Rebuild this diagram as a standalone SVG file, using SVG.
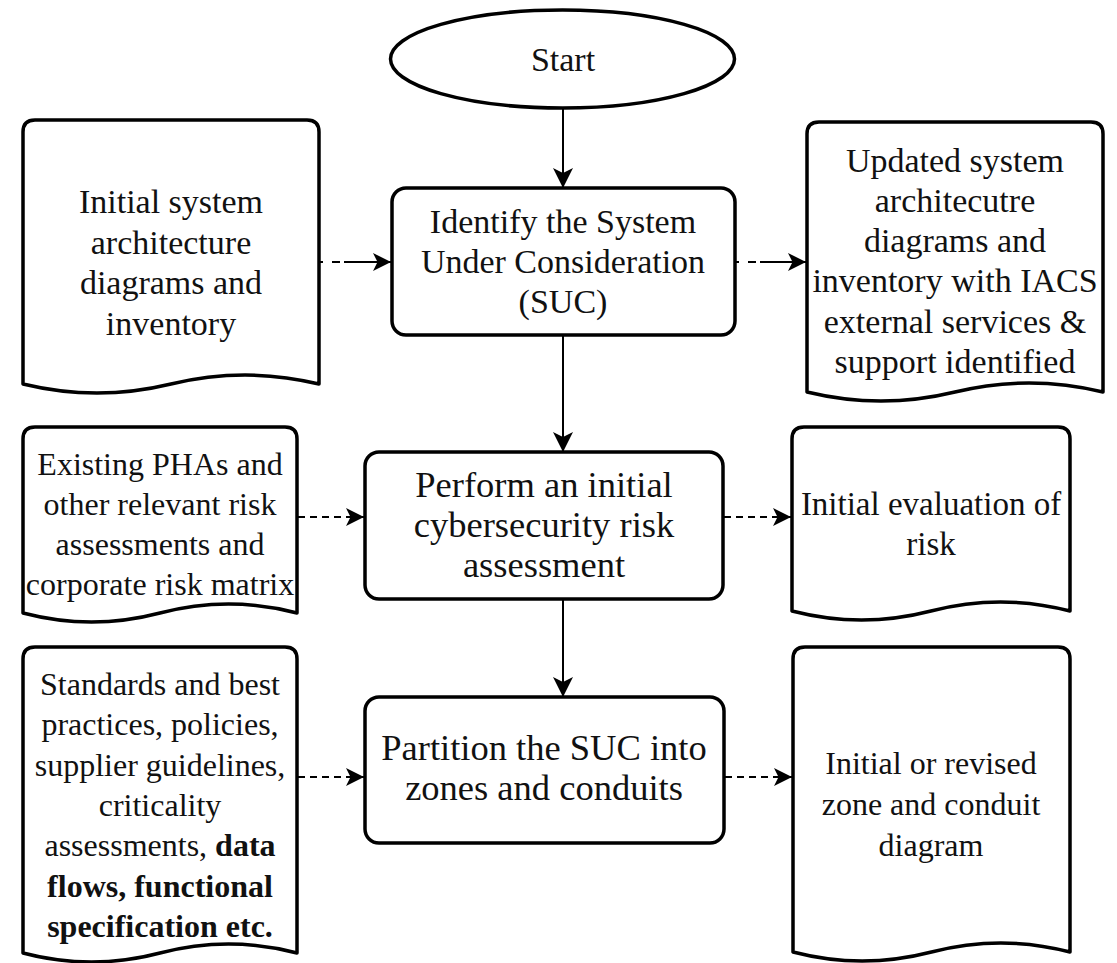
<svg xmlns="http://www.w3.org/2000/svg" width="1117" height="963" viewBox="0 0 1117 963">
  <style>
    .shape { fill: #ffffff; stroke: #000000; stroke-width: 3.5; stroke-linejoin: round; }
    .label { font-family: "Liberation Serif", "Times New Roman", serif; fill: #111111; text-anchor: middle; }
    .t34 { font-size: 34px; }
    .t33 { font-size: 33px; }
    .t32 { font-size: 32px; }
    .t36 { font-size: 36.5px; }
    .b { font-weight: bold; }
    .flow { fill: none; stroke: #000000; stroke-width: 2; }
    .data { fill: none; stroke: #000000; stroke-width: 2; stroke-dasharray: 7 5; }
    .data-top { fill: none; stroke: #000000; stroke-width: 2; stroke-dasharray: 3 9 8 4 60; }
  </style>
  <defs>
    <marker id="arrowMain" viewBox="0 0 20 20" refX="20" refY="10" markerWidth="20" markerHeight="22" markerUnits="userSpaceOnUse" orient="auto">
      <path d="M0,0 L20,10 L0,20 L5,10 Z" fill="#000000"/>
    </marker>
    <marker id="arrowData" viewBox="0 0 20 20" refX="20" refY="10" markerWidth="19" markerHeight="18" markerUnits="userSpaceOnUse" orient="auto">
      <path d="M0,0 L20,10 L0,20 L5,10 Z" fill="#000000"/>
    </marker>
  </defs>
  <rect x="0" y="0" width="1117" height="963" fill="#ffffff"/>

  <!-- process flow -->
  <g id="start">
    <ellipse class="shape" cx="562.5" cy="59" rx="172" ry="49"/>
    <text class="label t34" x="563" y="71">Start</text>
  </g>

  <g id="identify-suc">
    <rect class="shape" x="392" y="188" width="343" height="147" rx="14"/>
    <text class="label t34" x="563" y="233">Identify the System</text>
    <text class="label t34" x="563" y="273">Under Consideration</text>
    <text class="label t34" x="563" y="313">(SUC)</text>
  </g>

  <g id="initial-assessment">
    <rect class="shape" x="365" y="452" width="358" height="147" rx="14"/>
    <text class="label t36" x="544" y="497">Perform an initial</text>
    <text class="label t36" x="544" y="537">cybersecurity risk</text>
    <text class="label t36" x="544" y="577">assessment</text>
  </g>

  <g id="partition">
    <rect class="shape" x="365" y="697" width="359" height="146" rx="14"/>
    <text class="label t36" x="544" y="760">Partition the SUC into</text>
    <text class="label t36" x="544" y="800">zones and conduits</text>
  </g>

  <!-- input documents -->
  <g id="doc-initial-architecture">
    <path class="shape" d="M23,384 V132 Q23,120 35,120 H307 Q319,120 319,132 V384 Q245,366 171,384 T23,384 Z"/>
    <text class="label t34" x="171" y="213">Initial system</text>
    <text class="label t34" x="171" y="254">architecture</text>
    <text class="label t34" x="171" y="294">diagrams and</text>
    <text class="label t34" x="171" y="335">inventory</text>
  </g>

  <g id="doc-pha">
    <path class="shape" d="M23,613 V439 Q23,427 35,427 H285 Q297,427 297,439 V613 Q228.5,595 160,613 T23,613 Z"/>
    <text class="label t32" x="160" y="475">Existing PHAs and</text>
    <text class="label t32" x="160" y="515">other relevant risk</text>
    <text class="label t32" x="160" y="555">assessments and</text>
    <text class="label t32" x="160" y="595">corporate risk matrix</text>
  </g>

  <g id="doc-standards">
    <path class="shape" d="M23,953 V659 Q23,647 35,647 H285 Q297,647 297,659 V953 Q228.5,935 160,953 T23,953 Z"/>
    <text class="label t32" x="160" y="695">Standards and best</text>
    <text class="label t32" x="160" y="735">practices, policies,</text>
    <text class="label t32" x="160" y="776">supplier guidelines,</text>
    <text class="label t32" x="160" y="816">criticality</text>
    <text class="label t32" x="160" y="856">assessments, <tspan class="b">data</tspan></text>
    <text class="label t32 b" x="160" y="897">flows, functional</text>
    <text class="label t32 b" x="160" y="937">specification etc.</text>
  </g>

  <!-- output documents -->
  <g id="doc-updated-architecture">
    <path class="shape" d="M807,392 V134 Q807,122 819,122 H1091 Q1103,122 1103,134 V392 Q1029,374 955,392 T807,392 Z"/>
    <text class="label t34" x="955" y="172">Updated system</text>
    <text class="label t34" x="955" y="212">architecutre</text>
    <text class="label t34" x="955" y="252">diagrams and</text>
    <text class="label t34" x="955" y="292">inventory with IACS</text>
    <text class="label t34" x="955" y="333">external services &amp;</text>
    <text class="label t34" x="955" y="373">support identified</text>
  </g>

  <g id="doc-risk-evaluation">
    <path class="shape" d="M792,611 V439 Q792,427 804,427 H1058 Q1070,427 1070,439 V611 Q1000.5,593 931,611 T792,611 Z"/>
    <text class="label t33" x="931" y="515">Initial evaluation of</text>
    <text class="label t33" x="931" y="555">risk</text>
  </g>

  <g id="doc-zone-diagram">
    <path class="shape" d="M793,952 V659 Q793,647 805,647 H1058 Q1070,647 1070,659 V952 Q1001,934 931.5,952 T793,952 Z"/>
    <text class="label t32" x="931" y="774">Initial or revised</text>
    <text class="label t32" x="931" y="815">zone and conduit</text>
    <text class="label t32" x="931" y="856">diagram</text>
  </g>

  <!-- connectors -->
  <g id="connectors">
    <line class="flow" x1="563" y1="108" x2="563" y2="188" marker-end="url(#arrowMain)"/>
    <line class="flow" x1="563" y1="335" x2="563" y2="452" marker-end="url(#arrowMain)"/>
    <line class="flow" x1="563" y1="599" x2="563" y2="697" marker-end="url(#arrowMain)"/>
    <line class="data-top" x1="320" y1="262" x2="391" y2="262" marker-end="url(#arrowData)"/>
    <line class="data-top" x1="736" y1="262" x2="806" y2="262" marker-end="url(#arrowData)"/>
    <line class="data" x1="298" y1="517" x2="364" y2="517" marker-end="url(#arrowData)"/>
    <line class="data" x1="724" y1="517" x2="791" y2="517" marker-end="url(#arrowData)"/>
    <line class="data" x1="298" y1="777" x2="364" y2="777" marker-end="url(#arrowData)"/>
    <line class="data" x1="725" y1="777" x2="792" y2="777" marker-end="url(#arrowData)"/>
  </g>
</svg>
